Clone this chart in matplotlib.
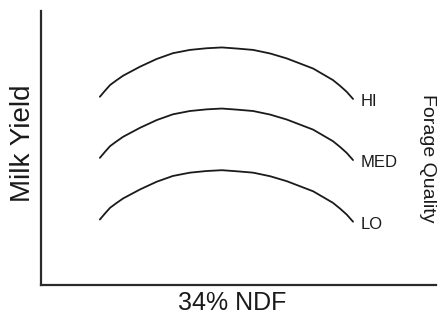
import matplotlib
matplotlib.use("Agg")
import matplotlib.pyplot as plt

# Curve data (arbitrary units, 0-100 on both axes)
ndf = [14.9, 16.2, 17.5, 19.1, 20.8, 25.1, 29.3, 33.4, 37.7, 41.9,
       45.8, 49.6, 53.7, 58.0, 62.2, 68.9, 73.9, 75.7, 77.4, 79.0]
hi = [68.7, 70.9, 73.0, 74.7, 76.4, 79.7, 82.5, 84.6, 85.8, 86.4,
      86.7, 86.3, 85.8, 84.5, 82.7, 79.0, 74.8, 72.7, 70.5, 67.9]
med = [46.4, 48.6, 50.7, 52.4, 54.1, 57.4, 60.2, 62.3, 63.5, 64.1,
       64.4, 64.0, 63.5, 62.2, 60.4, 56.7, 52.5, 50.4, 48.2, 45.6]
lo = [23.9, 26.1, 28.2, 29.9, 31.6, 34.9, 37.7, 39.8, 41.0, 41.6,
      41.9, 41.5, 41.0, 39.7, 37.9, 34.2, 30.0, 27.9, 25.7, 23.1]
labels = ["HI", "MED", "LO"]

plt.rcParams["font.family"] = ["Liberation Sans", "DejaVu Sans"]
ink = "#1a1a1a"

fig = plt.figure(figsize=(4.39, 3.18), dpi=100)
ax = fig.add_axes([41 / 439, 33 / 318, 395 / 439, 274 / 318])

for series, name in zip([hi, med, lo], labels):
    ax.plot(ndf, series, color=ink, lw=1.3, solid_capstyle="round",
            solid_joinstyle="round")
    ax.text(ndf[-1] + 2.0, series[-1] - 1.0, name, fontsize=12, color=ink,
            ha="left", va="center")

ax.set_xlim(0, 100)
ax.set_ylim(0, 100)
ax.set_xticks([])
ax.set_yticks([])
for side in ["top", "right"]:
    ax.spines[side].set_visible(False)
for side in ["left", "bottom"]:
    ax.spines[side].set_linewidth(1.6)
    ax.spines[side].set_color("#2a2a2a")

fig.text(23 / 439, 1 - 143 / 318, "Milk Yield", rotation=90, fontsize=20,
         color=ink, ha="center", va="center")
fig.text(232 / 439, 1 - 303 / 318, "34% NDF", fontsize=18, color=ink,
         ha="center", va="center")
fig.text(428 / 439, 1 - 158 / 318, "Forage Quality", rotation=-90, fontsize=14,
         color=ink, ha="center", va="center")

fig.savefig("out.png", dpi=100)
